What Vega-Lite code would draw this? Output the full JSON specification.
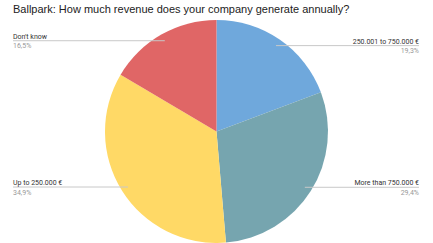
{
  "$schema": "https://vega.github.io/schema/vega-lite/v6.json",
  "width": 433,
  "height": 223,
  "autosize": "none",
  "padding": {"top": 20, "left": 0, "right": 0, "bottom": 0},
  "background": "white",
  "title": {
    "text": "Ballpark: How much revenue does your company generate annually?",
    "anchor": "start",
    "dx": 13,
    "offset": 5,
    "font": "Liberation Sans",
    "fontSize": 11,
    "fontWeight": "normal",
    "color": "#222222"
  },
  "config": {
    "view": {"stroke": null},
    "locale": {"number": {"decimal": ",", "thousands": ".", "grouping": [3], "currency": ["", " €"]}}
  },
  "data": {
    "values": [
      {"label": "250.001 to 750.000 €", "value": 0.193},
      {"label": "More than 750.000 €", "value": 0.294},
      {"label": "Up to 250.000 €", "value": 0.349},
      {"label": "Don't know", "value": 0.165}
    ]
  },
  "layer": [
    {
      "transform": [{"window": [{"op": "row_number", "as": "i"}]}],
      "mark": {"type": "arc"},
      "encoding": {
        "theta": {"field": "value", "type": "quantitative", "stack": true},
        "order": {"field": "i", "type": "quantitative"},
        "color": {
          "field": "label",
          "type": "nominal",
          "scale": {
            "domain": ["250.001 to 750.000 €", "More than 750.000 €", "Up to 250.000 €", "Don't know"],
            "range": ["#6fa8dc", "#76a5af", "#ffd966", "#e06666"]
          },
          "legend": null
        }
      }
    },
    {
      "transform": [
        {"joinaggregate": [{"op": "sum", "field": "value", "as": "total"}]},
        {"window": [{"op": "sum", "field": "value", "as": "cum"}], "frame": [null, 0]},
        {"calculate": "2*PI*(datum.cum - datum.value/2)/datum.total", "as": "mid"},
        {"calculate": "0.937*sin(datum.mid)", "as": "px"},
        {"calculate": "0.937*cos(datum.mid)", "as": "py"},
        {"calculate": "datum.px > 0 ? 1.8161 : -1.8251", "as": "ex"}
      ],
      "encoding": {
        "y": {"field": "py", "type": "quantitative", "scale": {"domain": [-1, 1], "nice": false, "zero": false}, "axis": null}
      },
      "layer": [
        {
          "mark": {"type": "rule", "color": "#c8c8c8", "strokeWidth": 1},
          "encoding": {
            "x": {"field": "px", "type": "quantitative", "scale": {"domain": [-1.9417, 1.9417], "nice": false, "zero": false}, "axis": null},
            "x2": {"field": "ex"}
          }
        },
        {
          "transform": [{"filter": "datum.px < 0"}],
          "layer": [
            {
              "mark": {"type": "text", "align": "left", "baseline": "alphabetic", "dy": -2, "font": "Roboto", "fontSize": 7, "color": "#333333"},
              "encoding": {
                "x": {"field": "ex", "type": "quantitative"},
                "text": {"field": "label"}
              }
            },
            {
              "mark": {"type": "text", "align": "left", "baseline": "top", "dy": 1.5, "font": "Roboto", "fontSize": 7, "color": "#999999"},
              "encoding": {
                "x": {"field": "ex", "type": "quantitative"},
                "text": {"field": "value", "format": ".1%"}
              }
            }
          ]
        },
        {
          "transform": [{"filter": "datum.px > 0"}],
          "layer": [
            {
              "mark": {"type": "text", "align": "right", "baseline": "alphabetic", "dy": -2, "font": "Roboto", "fontSize": 7, "color": "#333333"},
              "encoding": {
                "x": {"field": "ex", "type": "quantitative"},
                "text": {"field": "label"}
              }
            },
            {
              "mark": {"type": "text", "align": "right", "baseline": "top", "dy": 1.5, "font": "Roboto", "fontSize": 7, "color": "#999999"},
              "encoding": {
                "x": {"field": "ex", "type": "quantitative"},
                "text": {"field": "value", "format": ".1%"}
              }
            }
          ]
        }
      ]
    }
  ]
}
